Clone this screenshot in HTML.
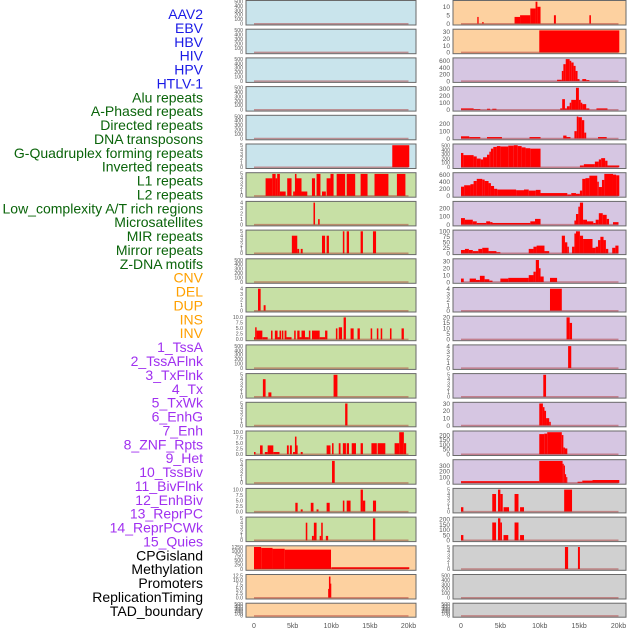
<!DOCTYPE html>
<html><head><meta charset="utf-8"><style>
html,body{margin:0;padding:0;background:#fff;}
svg{display:block;font-family:"Liberation Sans",sans-serif;}
</style></head><body>
<svg id="chart" width="630" height="630" xmlns="http://www.w3.org/2000/svg"></svg>
<script>
const trackLabels = ["AAV2","EBV","HBV","HIV","HPV","HTLV-1","Alu repeats","A-Phased repeats","Directed repeats","DNA transposons","G-Quadruplex forming repeats","Inverted repeats","L1 repeats","L2 repeats","Low_complexity A/T rich regions","Microsatellites","MIR repeats","Mirror repeats","Z-DNA motifs","CNV","DEL","DUP","INS","INV","1_TssA","2_TssAFlnk","3_TxFlnk","4_Tx","5_TxWk","6_EnhG","7_Enh","8_ZNF_Rpts","9_Het","10_TssBiv","11_BivFlnk","12_EnhBiv","13_ReprPC","14_ReprPCWk","15_Quies","CPGisland","Methylation","Promoters","ReplicationTiming","TAD_boundary"];
const labelGroups = [6,13,5,15,5];
const groupColors = ["#1a1ae6","#0a640a","#ffa000","#a030f0","#000000"];
const leftBg = ["b","b","b","b","b","b","g","g","g","g","g","g","g","g","g","g","g","g","g","o","o","o"];
const rightBg = ["o","o","p","p","p","p","p","p","p","p","p","p","p","p","p","p","p","g2","g2","g2","g2","g2"];
const E = [0,100,200,300,400,500];
const leftTicks = [E,E,E,E,E,[0,1,2,3,4,5],[0,1,2,3,4,5],[0,1,2,3,4],[0,1,2,3,4,5],E,[0,1,2,3,4],[0,2.5,5,7.5,10],E,[0,1,2,3,4,5],[0,1,2,3,4,5],[0,2.5,5,7.5,10],[0,1,2,3,4,5],[0,2.5,5,7.5,10],[0,1,2,3,4,5],[0,250,500,750,1000,1250],[0,2.5,5,7.5,10,12.5],E];
const leftMax = [500,500,500,500,500,5,5,4,5,500,4,10,500,5,5,10,5,10,5,1250,12.5,500];
const rightTicks = [[0,5,10],[0,10,20,30],[0,200,400,600],[0,100,200,300],[0,100,200],[0,100,200,300,400,500],[0,200,400,600],[0,100,200],[0,25,50,75,100],[0,10,20,30],[0,1,2,3,4],[0,5,10,15,20],[0,1,2,3,4],[0,1,2,3,4,5],[0,10,20,30],[0,50,100,150,200],[0,100,200,300],[0,1,2,3,4,5],[0,50,100,150,200],[0,1,2,3,4,5],E,E];
const rightMax = [13,32,650,310,300,510,620,270,100,32,4,20,4,5,30,230,380,5,210,5,500,500];
// segments [startKb, endKb, value]
const leftSegs = [[],[],[],[],[],
[[17.9,20.1,5]],
[[1.5,2.37,4],[2.37,2.8,5],[2.8,3.0,4],[3.0,3.35,5],[3.35,4.1,1],[4.3,4.86,4],[5.07,5.3,1],[5.3,5.5,5],[5.5,6.15,4],[6.15,6.9,1],[7.5,7.9,4],[8.1,8.6,5],[8.8,9.3,1],[9.4,9.9,4],[9.9,10.3,5],[10.7,11.8,5],[12.0,13.1,5],[13.8,14.7,5],[15.6,17.4,5],[18.5,19.6,5]],
[[7.7,7.9,4],[8.3,8.5,1]],
[[4.9,5.6,4],[5.6,5.85,1],[6.05,6.3,1],[8.8,9.2,4],[9.4,9.7,4],[11.5,11.7,5],[12.0,12.3,5],[13.8,14.1,5],[15.4,15.8,5]],
[],
[[0.52,0.86,4],[1.25,1.5,1]],
[[0.0,0.15,1],[0.15,0.34,5.5],[0.34,1.08,4],[1.08,1.77,1],[2.2,2.4,4],[2.7,3.05,4],[3.05,3.3,1],[3.3,3.5,4],[3.6,3.8,4],[3.96,4.2,4],[4.2,4.86,1],[5.2,5.4,4],[5.6,5.9,4],[5.9,6.15,1],[6.15,6.6,4],[6.6,7.1,1],[7.1,7.3,4],[7.5,8.5,4],[8.5,9.2,1],[9.2,9.5,4],[10.6,10.8,5],[10.97,11.4,5.5],[11.6,11.9,10],[12.5,12.9,5],[13.4,13.7,5],[15.1,15.3,5],[15.9,16.1,5],[16.4,16.6,5],[17.6,17.8,5],[19.1,19.4,5]],
[],
[[1.15,1.5,4],[1.86,2.25,1],[10.3,10.8,5]],
[[11.8,12.1,5]],
[[0,0.2,1],[0.78,1.12,4],[1.4,1.77,1],[1.77,2.5,4],[2.5,3.3,1],[4.26,4.5,4],[4.65,4.9,4],[5.05,5.3,1],[5.3,5.5,8],[5.5,5.65,4],[6.05,6.3,1],[9.4,9.9,4],[10.1,10.3,5],[10.97,11.2,5],[11.5,11.9,5],[12.0,12.3,5],[12.65,13.2,5],[13.8,14.1,5],[15.2,15.9,5],[16.0,17.0,5],[18.2,18.8,5],[18.8,19.4,10],[19.4,19.7,5]],
[[10.1,10.45,5]],
[[5.35,5.65,4],[6.05,6.3,1],[7.35,7.7,4],[8.1,8.35,1],[9.4,9.8,4],[11.5,11.7,5],[12.0,12.5,5],[13.8,14.1,10],[14.1,14.4,5],[15.4,15.8,5]],
[[6.7,6.9,4],[7.5,7.75,1],[7.75,8.1,4],[8.5,8.7,1],[8.7,8.9,4],[9.3,9.6,1],[15.4,15.7,5]],
[[0,0.93,1250],[0.93,2.4,1200],[2.4,3.97,1150],[3.97,9.97,1100],[10.0,20.1,100]],
[[9.6,9.8,5],[9.7,9.9,12],[9.9,10.0,8]],
[]];
const rightSegs = [
[[2.07,2.24,4],[2.7,2.87,1],[6.8,7.5,4],[7.5,8.8,5],[8.8,9.47,9],[9.47,9.7,13],[9.7,10.1,10],[11.8,12.05,5],[16.3,16.5,5]],
[[9.94,20.1,32]],
[[12.2,12.8,40],[12.8,13.0,300],[13.0,13.3,500],[13.3,13.8,650],[13.8,14.0,600],[14.0,14.3,550],[14.3,14.55,450],[14.55,14.8,300],[14.8,15.05,60],[15.4,15.9,60],[15.9,16.3,30]],
[[0,1.6,20],[1.6,2.45,10],[3.3,3.7,15],[3.97,4.5,15],[12.6,12.85,20],[12.85,13.2,150],[13.2,13.45,20],[13.45,13.8,50],[13.8,14.0,100],[14.0,14.6,140],[14.6,14.97,310],[14.97,15.2,140],[15.2,15.4,100],[15.4,15.9,80],[15.9,16.3,20],[17.2,18.6,20]],
[[0,1.05,30],[1.05,2.45,20],[3.3,5.2,20],[8.7,10.1,20],[12.98,13.4,40],[13.4,13.9,20],[14.4,14.7,100],[14.7,14.9,300],[14.9,15.35,290],[15.35,15.65,250],[15.65,15.9,80],[17.4,18.5,20]],
[[0,0.3,330],[0.3,1.6,280],[1.6,2.0,250],[2.0,2.5,200],[2.5,2.8,180],[2.8,3.3,230],[3.3,3.6,290],[3.6,3.8,360],[3.8,4.1,430],[4.1,4.55,470],[4.55,5.0,490],[5.0,6.0,480],[6.0,6.7,500],[6.7,7.2,510],[7.2,7.7,490],[7.7,8.2,460],[8.2,8.8,440],[8.8,10.1,430],[15.1,15.6,40],[15.6,17.0,70],[17.0,17.5,130],[17.5,17.8,180],[17.8,18.3,210],[18.3,18.6,150],[18.6,20.1,40]],
[[0,0.4,260],[0.4,1.2,300],[1.2,1.6,330],[1.6,2.0,420],[2.0,2.7,480],[2.7,3.0,460],[3.0,3.5,420],[3.5,3.8,360],[3.8,4.2,280],[4.2,4.6,200],[4.6,7.0,180],[7.0,8.0,160],[8.0,8.6,180],[8.6,9.5,150],[9.5,10.1,170],[10.1,13.5,80],[13.5,14.0,40],[14.0,14.6,80],[14.6,15.1,60],[15.1,15.4,150],[15.4,15.8,480],[15.8,16.3,500],[16.3,17.3,570],[17.3,17.5,400],[17.5,17.9,250],[17.9,18.2,450],[18.2,19.3,620],[19.3,19.7,600],[19.7,20.1,580]],
[[0,0.5,80],[0.5,1.5,60],[1.5,2.0,40],[2.0,3.2,20],[3.2,3.7,40],[3.7,4.0,30],[4.0,8.8,20],[8.8,9.4,40],[9.4,10.1,70],[14.4,14.6,50],[14.6,14.9,130],[14.9,15.1,220],[15.1,15.5,270],[15.5,16.0,60],[16.0,16.8,40],[16.8,17.1,20],[17.1,17.5,60],[17.5,18.0,140],[18.0,18.5,120],[18.5,18.8,70],[19.3,20.0,30]],
[[0,0.5,15],[0.5,1.0,20],[1.0,1.5,15],[1.5,2.2,10],[2.2,2.7,20],[2.7,3.5,25],[3.5,4.5,10],[4.5,5.0,5],[8.6,9.2,20],[9.2,9.6,30],[9.6,10.6,35],[10.6,11.2,10],[12.8,13.2,80],[13.2,13.5,50],[13.5,13.7,30],[14.1,14.4,30],[14.4,14.6,90],[14.6,15.1,100],[15.1,15.5,80],[15.5,16.7,65],[16.7,17.1,25],[17.1,17.4,30],[17.4,17.7,60],[17.7,18.1,75],[18.1,18.4,60],[18.4,18.7,20],[19.2,19.6,25],[19.6,20.0,35]],
[[0,0.35,5],[1.1,1.9,5],[1.9,2.4,3],[2.4,3.0,9],[3.0,3.6,4],[3.6,4.0,2],[5.0,6.0,5],[6.0,8.6,6],[8.6,9.2,10],[9.2,9.5,15],[9.5,9.9,32],[9.9,10.1,20],[10.1,10.5,8],[11.3,12.2,6]],
[[11.3,12.8,4]],
[[13.4,13.8,20],[13.8,14.1,15]],
[[13.6,14.0,4]],
[[10.45,10.8,5]],
[[9.94,10.4,30],[10.4,10.6,25],[10.6,10.8,20],[10.8,11.2,10],[11.2,11.4,5]],
[[9.94,10.57,210],[10.57,10.95,215],[10.95,12.8,230],[12.8,13.0,200],[13.0,13.2,70],[13.2,13.5,60]],
[[0,9.94,30],[9.94,12.9,380],[12.9,13.05,330],[13.05,13.2,300],[13.2,13.35,150],[13.35,13.5,100],[14.8,15.4,20],[15.4,16.7,40],[16.7,20.1,50]],
[[0,0.3,1],[3.97,4.45,4],[4.7,5.0,5],[5.0,5.3,4],[5.4,6.1,1],[6.8,7.3,4],[7.5,8.0,1],[13.1,14.1,5]],
[[0,0.3,50],[3.97,4.45,170],[4.7,5.0,210],[5.0,5.2,170],[5.4,6.0,50],[6.8,7.3,170],[7.5,8.0,50]],
[[13.2,13.6,5],[14.85,15.1,5]],
[],[]];
const xTickKb = [0,5,10,15,20];
const xTickLabels = ["0","5kb","10kb","15kb","20kb"];

const NS = "http://www.w3.org/2000/svg";
const svg = document.getElementById("chart");
function mk(tag, attrs, parent){const e=document.createElementNS(NS,tag);for(const k in attrs)e.setAttribute(k,attrs[k]);(parent||svg).appendChild(e);return e;}
const bgColors = {b:"#c9e4ec",g:"#c7e0a5",o:"#fdd1a0",p:"#d6c6e2",g2:"#d0d0d0"};
const cols = [{x0:246,x1:416,k0:254,k1:408.5,bg:leftBg,ticks:leftTicks,max:leftMax,segs:leftSegs,side:"left"},
              {x0:453,x1:626,k0:461,k1:618.5,bg:rightBg,ticks:rightTicks,max:rightMax,segs:rightSegs,side:"right"}];
const pitch = 28.7;
function fmt(v,ticks){return ticks.some(t=>t%1!==0)?v.toFixed(1):String(v);}
cols.forEach(c=>{
  const xs = kb=>c.k0+(c.k1-c.k0)*kb/20;
  for(let i=0;i<22;i++){
    const top = i*pitch+0.5, h = (i===21)?14:24.5;
    const g = mk("g",{});
    
    
    mk("rect",{x:c.x0,y:top,width:c.x1-c.x0,height:h,fill:bgColors[c.bg[i]],stroke:"#6a6a6a","stroke-width":1},g);
    const y0 = top+h-1.3, y1 = top+1.2;
    const ys = v=>y0-(y0-y1)*v/c.max[i];
    c.segs[i].forEach(s=>{
      const r = mk("rect",{x:xs(s[0]),y:ys(s[2]),width:Math.max(0.8,xs(s[1])-xs(s[0])),height:y0-ys(s[2]),fill:"#ff0000"},g);
      
      
    });
    mk("line",{x1:xs(0),x2:xs(20),y1:y0,y2:y0,stroke:"rgba(170,40,40,0.45)","stroke-width":1.5},g);
    const tk = c.ticks[i];
    const fs = (c.side==="right" && tk.length<=5 && c.max[i]!==500)?6.5:5.2;
    tk.forEach(t=>{
      const tx = mk("text",{x:c.x0-3,y:ys(t)+fs*0.35,"text-anchor":"end","font-size":fs,fill:"#555"},g);
      tx.textContent = fmt(t,tk);
      
      
    });
  }
  xTickKb.forEach((k,j)=>{
    const t = mk("text",{x:xs(k),y:628,"text-anchor":"middle","font-size":7,fill:"#555"});
    t.textContent = xTickLabels[j];
    
    
  });
});
let idx=0;
labelGroups.forEach((n,gi)=>{
  for(let j=0;j<n;j++){
    const t = mk("text",{x:203,y:14+idx*13.88+5,"text-anchor":"end","font-size":14,fill:groupColors[gi]});
    t.textContent = trackLabels[idx];
    
    
    idx++;
  }
});
</script>
</body></html>
